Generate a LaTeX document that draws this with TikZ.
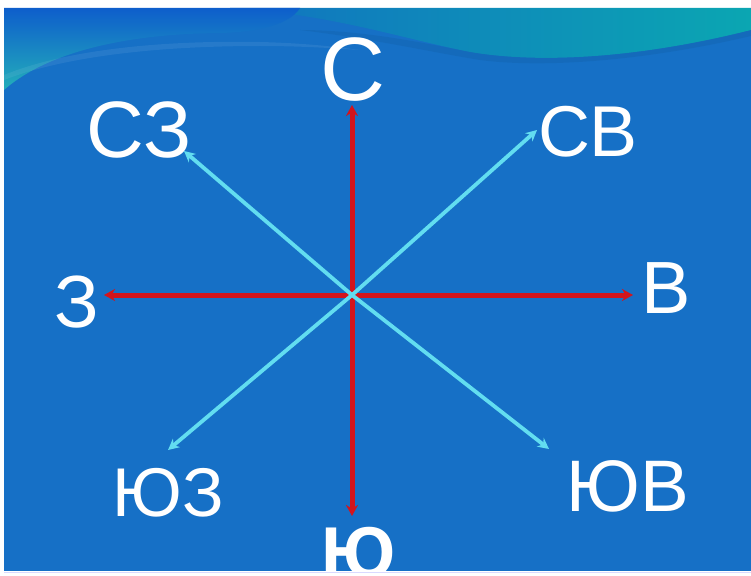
\documentclass[tikz,border=0pt]{standalone}
\usepackage{fontspec}
\setmainfont{Liberation Sans}
\usetikzlibrary{arrows.meta}
\definecolor{panelblue}{HTML}{1670C6}
\definecolor{tealA}{HTML}{1590B0}
\definecolor{tealB}{HTML}{0BA6B2}
\definecolor{arrowred}{HTML}{D3141C}
\definecolor{arrowcyan}{HTML}{62DDF0}
\tikzset{
  lbl/.style={text=white, inner sep=0pt, anchor=base},
  redarrow/.style={draw=arrowred, line width=5pt, -{Stealth[length=11pt,width=12pt]}},
  cyanarrow/.style={draw=arrowcyan, line width=3.8pt, -{Stealth[length=11pt,width=11pt]}}
}
\begin{document}
\begin{tikzpicture}[x=1pt,y=-1pt]
\useasboundingbox (0,0) rectangle (751,575);
\fill[white] (0,0) rectangle (751,575);
% panel
\begin{scope}
\clip (4,8) rectangle (751,571);
\fill[panelblue] (4,8) rectangle (751,571);
% upper-right teal wave (behind)
\shade[left color=tealA!80!blue, right color=tealB] (230,8) .. controls (330,14) and (400,38) .. (470,52) .. controls (540,64) and (640,58) .. (751,30) -- (751,8) -- cycle;
% darker crest below the right wave
\fill[panelblue!80!black, opacity=0.25] (300,30) .. controls (380,40) and (430,52) .. (480,60) .. controls (540,68) and (640,62) .. (751,36) -- (751,30) .. controls (640,58) and (540,64) .. (470,52) .. controls (420,42) and (360,30) .. (300,30) -- cycle;
% upper-left teal wave
\shade[top color=tealA!65!blue, bottom color=tealB!90!white] (4,8) -- (4,90) .. controls (40,58) and (110,34) .. (220,33) .. controls (260,32) and (290,24) .. (300,8) -- cycle;
\fill[white, opacity=0.07] (4,75) .. controls (60,52) and (150,40) .. (260,42) .. controls (300,43) and (330,46) .. (360,50) .. controls (330,48) and (300,46) .. (260,46) .. controls (150,46) and (60,58) .. (4,80) -- cycle;
% bottom label (cut by the panel edge, as in the reference)
\node[lbl, font=\fontsize{72}{72}\bfseries\selectfont] (s) at (359,577) {Ю};
\end{scope}
\draw[white!85!blue, line width=1pt] (4,572) -- (751,572);
% centre and arrow ends
\coordinate (o) at (352,295);
\coordinate (tn) at (352,105);
\coordinate (ts) at (352,516);
\coordinate (tw) at (104,295);
\coordinate (te) at (633,295);
\coordinate (tnw) at (184,151);
\coordinate (tne) at (537,130);
\coordinate (tsw) at (168,450);
\coordinate (tse) at (549,449);
% red arrows
\draw[redarrow] (o) -- (tn);
\draw[redarrow] (o) -- (ts);
\draw[redarrow] (o) -- (tw);
\draw[redarrow] (o) -- (te);
% cyan arrows
\draw[cyanarrow] (o) -- (tnw);
\draw[cyanarrow] (o) -- (tne);
\draw[cyanarrow] (o) -- (tsw);
\draw[cyanarrow] (o) -- (tse);
% labels
\node[lbl, font=\fontsize{90}{90}\selectfont] (n) at (353,101) {С};
\node[lbl, font=\fontsize{80}{80}\selectfont] (nw) at (139,157) {СЗ};
\node[lbl, font=\fontsize{72}{72}\selectfont] (ne) at (588,156) {СВ};
\node[lbl, font=\fontsize{74}{74}\selectfont] (w) at (77,327) {З};
\node[lbl, font=\fontsize{74}{74}\selectfont] (e) at (666,313) {В};
\node[lbl, font=\fontsize{69}{69}\selectfont] (sw) at (168,516) {ЮЗ};
\node[lbl, font=\fontsize{73}{73}\selectfont] (se) at (628,511) {ЮВ};
\end{tikzpicture}
\end{document}
